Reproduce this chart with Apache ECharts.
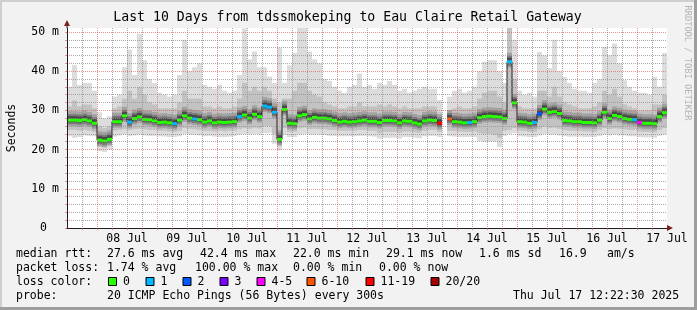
<!DOCTYPE html>
<html><head><meta charset="utf-8">
<script src="https://cdn.jsdelivr.net/npm/echarts@6/dist/echarts.min.js"></script>
<style>html,body{margin:0;padding:0;background:#f2f2f2}#c{width:697px;height:310px}</style>
</head><body><div id="c"></div>
<script>
// ---- data (ms); bins of 2 hours starting 07 Jul 12:00 (hour 12 since 07 Jul 00:00) ----
const binStartHour = 12;
const binHours = 2;
const dayLabels = ['08 Jul','09 Jul','10 Jul','11 Jul','12 Jul','13 Jul','14 Jul','15 Jul','16 Jul','17 Jul'];
const yTickValues = [0, 10, 20, 30, 40, 50];
const yTickLabels = ['0', '10 m', '20 m', '30 m', '40 m', '50 m'];

const medRtt = [27.5,27.5,27.4,27.6,27.3,26.7,22.4,22.2,22.6,27.1,
27.1,28.6,27.0,27.9,28.3,27.7,27.6,27.3,26.9,27.0,
26.8,26.6,27.5,28.6,28.0,27.8,27.6,27.0,27.3,26.8,
27.0,26.9,27.0,27.1,28.4,28.8,28.0,29.0,28.4,31.1,
30.8,29.5,22.6,30.2,26.7,26.6,28.6,28.9,27.8,28.2,
28.0,28.0,27.8,27.4,27.0,27.2,27.0,27.1,27.3,27.5,
27.2,27.2,26.9,27.4,27.4,27.3,26.8,27.3,27.2,26.8,
26.5,27.3,27.5,27.4,26.7,null,27.8,27.1,27.0,26.8,
26.9,27.1,28.1,28.4,28.5,28.4,28.3,27.9,42.4,31.9,
27.1,27.0,26.7,26.9,29.1,30.3,29.5,29.7,29.2,27.4,
27.3,27.1,27.1,26.9,26.9,26.8,27.5,29.5,27.9,28.7,
28.4,27.9,27.7,27.6,26.9,26.7,26.7,26.6,28.4,29.4];

// lost pings class per bin: 0:'0' 1:'1' 2:'2' 3:'3' 4:'4-5' 5:'6-10' 6:'11-19' 7:'20/20'
const lossClass = [0,0,0,0,0,0,0,0,0,0,
0,0,1,0,0,0,0,0,0,0,
0,1,0,0,0,1,0,0,0,0,
0,0,0,0,1,0,0,0,0,1,
1,1,0,0,0,0,0,0,0,0,
0,0,0,0,0,0,0,0,0,0,
0,0,0,0,0,0,0,0,0,0,
0,0,0,0,6,null,5,0,0,0,
1,0,0,0,0,0,0,0,1,0,
0,0,0,1,2,0,0,0,0,0,
0,0,0,0,0,0,0,0,0,0,
0,0,0,1,4,0,0,0,0,0];

const maxRtt = [36,41.5,36.5,37,37,35,29.5,28,28.5,33.5,
34,41,45.5,39,49.5,42.8,38,37,34.5,34,
33.5,34,39,48,40,41,42,36.5,36,35.5,
36.5,35,34.5,35,39,50.9,43,45,41,41,
38.6,37,46,37,41.5,44.6,51,51,45,43,
42,38,37.5,36,35,34.5,36,36.5,39.4,36,
36.5,35.5,37,36.5,37.5,36.5,35,35.5,34.5,35,
35.5,36,35.5,35.5,32.6,null,33.5,35,35.5,34.5,
35,36,40,42.4,42.8,42.8,40,37,55,48,
35,34,34.5,33.5,44.9,44,40.8,48,40,38.5,
37,35.5,35,35,34.5,37,38,46.2,44,47,
42,37.7,36,35,34.5,34.5,34,38.5,36,44.6];

const upRtt = [31,32.5,31,31.5,31.5,30.5,26,25.5,26,30.5,
31,33,35,33,36,34,32,31.5,30.5,30.5,
30.5,30.5,32,35,33,33,33,31,31,30.5,
31,30.5,30.5,31,33,37,35,36,35,36,
35,33,32,33,33,35,37,37,35,34,
33.5,32,31.5,31,30.5,30.5,31,31,32,31,
31,31,31.5,31,31.5,31,30.5,31,30.5,30.5,
30.5,31,31,31,29.5,null,30,30.5,31,30.5,
30.5,31,33,34.5,35,35,33.5,32,51,38,
31,30.5,30.5,30.5,35,35,33.5,36,33.5,32,
31.5,31,30.5,30.5,30.5,31,32,35,34,35.5,
33.5,31.5,31,30.5,30,30,30,31.5,31.5,34];

const loRtt = [25,25,24.8,25,24.8,24.5,20.8,20.5,21,24.8,
25,25.2,25,25.2,25.3,25.2,25,25,24.8,24.8,
24.6,24.5,24.8,25.5,25.3,25.2,25,24.8,24.8,24.6,
24.8,24.6,24.8,24.8,25.2,25.5,25.3,25.6,25.4,26,
26,24,21,25.5,24.5,24.5,25.4,25.6,25.2,25.3,
25.2,25.2,25,25,24.8,24.8,24.8,24.8,25,25,
24.8,24.8,24.2,24.5,24.5,24.5,24.3,24.6,24.6,24.4,
24.3,24.8,25,25,24.5,null,24.8,24.7,24.6,24.5,
24.5,24.6,24.2,24,24,23.8,23,24.8,25,25.5,
24.8,24.7,24.5,24.5,25.2,25.8,25.5,25.6,25.3,25,
24.8,24.8,24.8,24.6,24.6,24.5,25,25.5,25.2,25.4,
25.3,25.2,25,25,24.6,24.5,24.5,24.4,25,25.5];

const minRtt = [23.5,23,23.2,23.6,23.5,23.4,19.6,19.4,20,23.3,
23.6,23.8,23.5,23.6,23.8,23.6,23.5,23.5,23.4,23.3,
23.2,23.2,23.4,24,23.8,23.7,23.6,23.4,23.5,23.3,
23.2,23.2,23.3,23.5,23.8,24,23.8,24,23.8,24.2,
24.2,21.5,19.8,23.8,23.2,23.2,23.8,24,23.8,23.8,
23.8,23.7,23.5,23.5,23.4,23.4,23.4,23.4,23.5,23.5,
23.4,23.3,22.8,23,23,23,22.8,23.2,23.2,23,
22.9,23.4,23.5,23.5,23.2,null,23.4,23.3,23.2,23.2,
23.2,23.2,22.2,22,22,22,20.7,23.5,24,24.2,
23.4,23.3,23.2,23.2,23.6,24,23.8,23.8,23.6,23.4,
23.3,23.3,23.3,23.2,23.2,23.2,23.5,23.8,23.6,23.8,
23.6,23.6,23.4,23.4,23.2,23.1,23.1,23,23.5,23.8];

const lossLegendLabels = ['0','1','2','3','4-5','6-10','11-19','20/20'];
const titleText = 'Last 10 Days from tdssmokeping to Eau Claire Retail Gateway';
const medianStats = ['27.6 ms avg','42.4 ms max','22.0 ms min','29.1 ms now','1.6 ms sd','16.9','am/s'];
const lossStats = ['1.74 % avg','100.00 % max','0.00 % min','0.00 % now'];
const probeText = '20 ICMP Echo Pings (56 Bytes) every 300s';
const dateText = 'Thu Jul 17 12:22:30 2025';

// ---- styles ----
const lossColors = ['#26ff00','#00b8ff','#0059ff','#7e00ff','#ff00ff','#ff5500','#ff0000','#a10000'];
const MONO = '"DejaVu Sans Mono", monospace';
const GRID_MINOR = 'rgba(143,143,143,0.75)';
const GRID_MAJOR = 'rgba(222,79,79,0.6)';

// ---- build series data ----
const binData = [];
for (let i = 0; i < medRtt.length; i++) {
  if (medRtt[i] == null) continue;
  const xs = binStartHour + i * binHours, xe = xs + binHours;
  const nextMed = (i + 1 < medRtt.length) ? medRtt[i + 1] : null;
  binData.push([xs, xe, minRtt[i], loRtt[i], upRtt[i], maxRtt[i], medRtt[i], lossClass[i], nextMed == null ? NaN : nextMed]);
}

function clipRect(params, r) {
  return echarts.graphic.clipRectByRect(r, {
    x: params.coordSys.x, y: params.coordSys.y, width: params.coordSys.width, height: params.coordSys.height
  });
}
function band(params, api, lowV, highV, fill) {
  const a = api.coord([api.value(0), highV]);
  const b = api.coord([api.value(1), lowV]);
  const r = clipRect(params, {x: a[0], y: a[1], width: b[0] - a[0], height: b[1] - a[1]});
  return r ? {type: 'rect', shape: r, style: {fill: fill}} : null;
}
function renderSmoke(params, api) {
  const kids = [];
  const l = band(params, api, api.value(2), api.value(5), '#dcdcdc');
  if (l) kids.push(l);
  const m = band(params, api, api.value(3), api.value(4), '#c2c2c2');
  if (m) kids.push(m);
  return {type: 'group', children: kids};
}
function renderCore(params, api) {
  const a = api.coord([api.value(0), api.value(6)]);
  const b = api.coord([api.value(1), api.value(6)]);
  return {type: 'group', children: [
    {type: 'rect', shape: {x: a[0], y: a[1] - 9, width: b[0] - a[0], height: 15}, style: {fill: '#a2a2a2'}},
    {type: 'rect', shape: {x: a[0], y: a[1] - 6, width: b[0] - a[0], height: 10}, style: {fill: '#7a7a7a'}},
    {type: 'rect', shape: {x: a[0], y: a[1] - 4, width: b[0] - a[0], height: 6}, style: {fill: '#4a4a4a'}}
  ]};
}
function renderMedian(params, api) {
  const a = api.coord([api.value(0), api.value(6)]);
  const b = api.coord([api.value(1), api.value(6)]);
  const kids = [];
  const nm = api.value(8);
  if (!isNaN(nm)) {
    const c = api.coord([api.value(1), nm]);
    kids.push({type: 'line', shape: {x1: b[0], y1: b[1], x2: c[0], y2: c[1]}, style: {stroke: '#202020', lineWidth: 1}});
  }
  kids.push({type: 'rect', shape: {x: a[0], y: a[1] - 1.5, width: b[0] - a[0], height: 3}, style: {fill: lossColors[api.value(7)]}});
  return {type: 'group', children: kids};
}

const chart = echarts.init(document.getElementById('c'), null, {renderer: 'canvas'});

const graphics = [];
graphics.push({type: 'rect', shape: {x: 0, y: 0, width: 697, height: 2}, style: {fill: '#cfcfcf'}, silent: true});
graphics.push({type: 'rect', shape: {x: 0, y: 0, width: 2, height: 310}, style: {fill: '#cfcfcf'}, silent: true});
graphics.push({type: 'rect', shape: {x: 0, y: 307, width: 697, height: 3}, style: {fill: '#9e9e9e'}, silent: true});
graphics.push({type: 'rect', shape: {x: 694, y: 0, width: 3, height: 310}, style: {fill: '#9e9e9e'}, silent: true});
graphics.push({type: 'text', style: {x: 347.5, y: 18, text: titleText, font: '13.2px ' + MONO, fill: '#000', align: 'center', verticalAlign: 'middle'}});
graphics.push({type: 'text', x: 687.5, y: 63, rotation: -Math.PI / 2, style: {x: 0, y: 0, text: 'RRDTOOL / TOBI OETIKER', font: '8.7px ' + MONO, fill: '#b4b4b4', align: 'center', verticalAlign: 'middle'}});
graphics.push({type: 'text', x: 12, y: 128, rotation: Math.PI / 2, style: {x: 0, y: 0, text: 'Seconds', font: '11.5px ' + MONO, fill: '#000', align: 'center', verticalAlign: 'middle'}});

const LF = '11.5px ' + MONO;
function txt(x, y, s) { graphics.push({type: 'text', style: {x: x, y: y, text: s, font: LF, fill: '#000', align: 'left', verticalAlign: 'middle'}}); }
txt(16, 254.5, 'median rtt:');
[107, 200, 293, 386, 479, 559, 607].forEach((x, k) => txt(x, 254.5, medianStats[k]));
txt(16, 268.5, 'packet loss:');
[107, 195, 293, 379].forEach((x, k) => txt(x, 268.5, lossStats[k]));
txt(16, 282, 'loss color:');
const boxX = [108, 145.5, 182.5, 219.5, 256.5, 306.5, 365.5, 430.5];
lossLegendLabels.forEach((s, k) => {
  graphics.push({type: 'rect', shape: {x: boxX[k] + 0.5, y: 277.5, width: 8, height: 8}, style: {fill: lossColors[k], stroke: '#000', lineWidth: 1}});
  txt(boxX[k] + 15, 282, s);
});
txt(16, 296, 'probe:');
txt(107, 296, probeText);
txt(513, 296, dateText);

const option = {
  backgroundColor: '#f2f2f2',
  animation: false,
  grid: {left: 67, top: 28, width: 600, height: 200, containLabel: false, show: true, backgroundColor: '#ffffff', borderWidth: 0},
  xAxis: {
    type: 'value', min: 12, max: 252, interval: 6, z: 10,
    axisLine: {show: true, lineStyle: {color: '#1f1f1f', width: 1}},
    axisTick: {show: true, length: 2, lineStyle: {color: GRID_MAJOR}},
    axisLabel: {
      interval: 0, showMinLabel: false, showMaxLabel: true, margin: 5, color: '#000', fontFamily: MONO, fontSize: 11.5,
      formatter: v => ((v - 36) % 24 === 0 && v >= 36) ? dayLabels[(v - 36) / 24] : ''
    },
    splitLine: {show: true, showMinLine: true, showMaxLine: false,
      lineStyle: {color: [GRID_MINOR, GRID_MINOR, GRID_MAJOR, GRID_MINOR], type: [1, 1], width: 1}}
  },
  yAxis: {
    type: 'value', min: 0, max: 51, interval: 2, z: 10,
    axisLine: {show: true, lineStyle: {color: '#1f1f1f', width: 1}},
    axisTick: {show: true, length: 2, lineStyle: {color: GRID_MAJOR}},
    axisLabel: {
      interval: 0, showMaxLabel: false, margin: 8, color: '#000', fontFamily: MONO, fontSize: 11.5,
      formatter: v => {
        const k = yTickValues.indexOf(v);
        if (k < 0) return '';
        return k === 0 ? '{z|' + yTickLabels[0] + '}' : yTickLabels[k];
      },
      rich: {z: {fontFamily: MONO, fontSize: 11.5, color: '#000', padding: [0, 12, 0, 0]}}
    },
    splitLine: {show: true, showMinLine: true, showMaxLine: false,
      lineStyle: {color: [GRID_MAJOR, GRID_MINOR, GRID_MINOR, GRID_MINOR, GRID_MINOR], type: [1, 1], width: 1}}
  },
  series: [
    {type: 'custom', name: 'smoke', renderItem: renderSmoke, data: binData, clip: true, z: 2, encode: {x: [0, 1], y: [2, 5]}},
    {type: 'custom', name: 'core', renderItem: renderCore, data: binData, clip: true, z: 3, encode: {x: [0, 1], y: 6}},
    {type: 'custom', name: 'median', renderItem: renderMedian, data: binData, clip: true, z: 4, encode: {x: [0, 1], y: 6}}
  ],
  graphic: graphics
};
chart.setOption(option);

const pTop = chart.convertToPixel({gridIndex: 0}, [12, 51]);
const pRight = chart.convertToPixel({gridIndex: 0}, [252, 0]);
chart.setOption({graphic: graphics.concat([
  {type: 'line', shape: {x1: pTop[0], y1: pTop[1], x2: pTop[0], y2: pTop[1] - 5}, style: {stroke: '#1f1f1f', lineWidth: 1}, z: 20},
  {type: 'polygon', shape: {points: [[pTop[0], pTop[1] - 8], [pTop[0] - 3, pTop[1] - 2], [pTop[0] + 3, pTop[1] - 2]]}, style: {fill: '#801f1f'}, z: 20},
  {type: 'line', shape: {x1: pRight[0], y1: pRight[1], x2: pRight[0] + 3, y2: pRight[1]}, style: {stroke: '#1f1f1f', lineWidth: 1}, z: 20},
  {type: 'polygon', shape: {points: [[pRight[0] + 6, pRight[1]], [pRight[0], pRight[1] - 3], [pRight[0], pRight[1] + 3]]}, style: {fill: '#801f1f'}, z: 20}
])});
</script></body></html>
